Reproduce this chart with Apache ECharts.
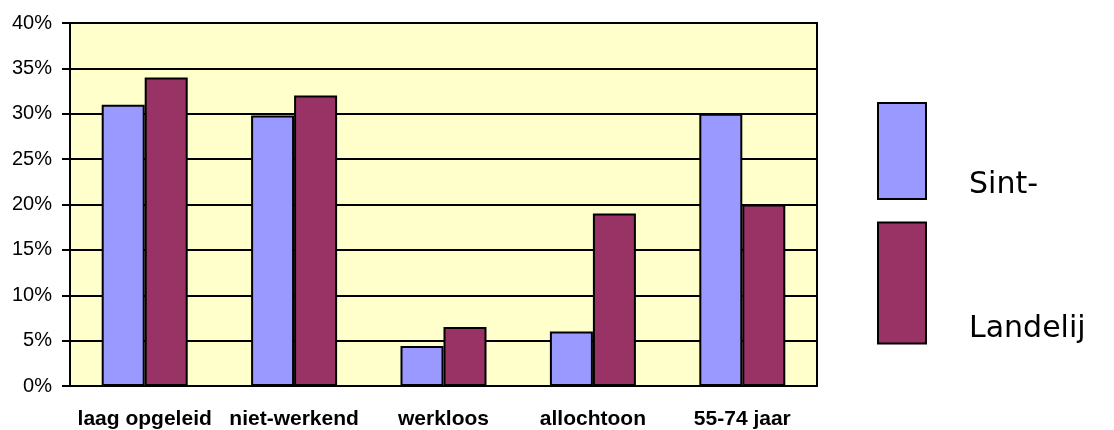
<!DOCTYPE html>
<html>
<head>
<meta charset="utf-8">
<script src="https://cdn.jsdelivr.net/npm/echarts@6/dist/echarts.min.js"></script>
<style>
html,body{margin:0;padding:0;background:#fff;}
#chart{width:1114px;height:430px;}
</style>
</head>
<body>
<div id="chart"></div>
<script>
const categories = ['laag opgeleid', 'niet-werkend', 'werkloos', 'allochtoon', '55-74 jaar'];
const seriesNames = ['Sint-', 'Landelij'];
const sintValues = [31, 29.8, 4.4, 6, 30];
const landelijkValues = [34, 32, 6.5, 19, 20];
const yTicks = { min: 0, max: 40, interval: 5 };

const chart = echarts.init(document.getElementById('chart'));
const legendText = { fontFamily: 'DejaVu Sans', fontSize: 30, color: '#000', padding: [0, 0, 0, 38] };
chart.setOption({
  animation: false,
  grid: {
    left: 70, top: 23, right: 297, bottom: 43,
    show: true, backgroundColor: '#FFFFCC', borderColor: '#000', borderWidth: 2
  },
  legend: [
    {
      data: [seriesNames[0]], left: 877, top: 83, orient: 'vertical', padding: 0,
      itemWidth: 48, itemHeight: 96, icon: 'rect', selectedMode: false,
      formatter: function (n) { return '\n' + n; },
      textStyle: Object.assign({ lineHeight: 68 }, legendText)
    },
    {
      data: [seriesNames[1]], left: 877, top: 190, orient: 'vertical', padding: 0,
      itemWidth: 48, itemHeight: 121, icon: 'rect', selectedMode: false,
      formatter: function (n) { return '\n' + n; },
      textStyle: Object.assign({ lineHeight: 93 }, legendText)
    }
  ],
  xAxis: {
    type: 'category',
    data: categories,
    axisLine: { lineStyle: { color: '#000', width: 2 } },
    axisTick: { show: false },
    axisLabel: { color: '#000', fontFamily: 'Liberation Sans', fontWeight: 'bold', fontSize: 21, margin: 23, interval: 0 }
  },
  yAxis: {
    type: 'value',
    min: yTicks.min, max: yTicks.max, interval: yTicks.interval,
    axisLine: { show: true, lineStyle: { color: '#000', width: 2 } },
    axisTick: { show: true, length: 8, lineStyle: { color: '#000', width: 2 } },
    splitLine: { show: true, lineStyle: { color: '#000', width: 2 } },
    axisLabel: { color: '#000', fontFamily: 'Liberation Sans', fontSize: 20, margin: 18, formatter: '{value}%' }
  },
  series: [
    {
      name: seriesNames[0], type: 'bar', data: sintValues,
      barWidth: 43, barGap: '0%',
      itemStyle: { color: '#9999FF', borderColor: '#000', borderWidth: 2 }
    },
    {
      name: seriesNames[1], type: 'bar', data: landelijkValues,
      barWidth: 43, barGap: '0%',
      itemStyle: { color: '#993366', borderColor: '#000', borderWidth: 2 }
    }
  ]
});
</script>
</body>
</html>
